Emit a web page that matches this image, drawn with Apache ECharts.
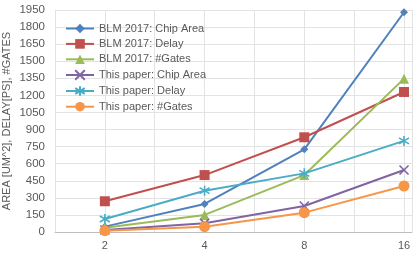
<!DOCTYPE html>
<html><head><meta charset="utf-8">
<script src="https://cdn.jsdelivr.net/npm/echarts@6/dist/echarts.min.js"></script>
<style>html,body{margin:0;padding:0;background:#fff}#c{width:415px;height:260px}</style>
</head><body><div id="c"></div>
<script>
const categories = [2, 4, 8, 16];
const xTickLabels = ['2', '4', '8', '16'];
const yTickLabels = ['0','150','300','450','600','750','900','1050','1200','1350','1500','1650','1800','1950'];
const seriesNames = ['BLM 2017: Chip Area','BLM 2017: Delay','BLM 2017: #Gates','This paper: Chip Area','This paper: Delay','This paper: #Gates'];
const blmArea = [47, 246, 726, 1930];
const blmDelay = [270, 500, 832, 1230];
const blmGates = [38, 150, 500, 1347];
const ourArea = [18, 76, 228, 545];
const ourDelay = [114, 363, 515, 800];
const ourGates = [12, 47, 170, 404];

const colors = ['#4F81BD','#C0504D','#9BBB59','#8064A2','#4BACC6','#F79646'];
const symbols = ['diamond','rect','triangle','path://M0,0L10,10M10,0L0,10','path://M5,0L5,10M0,2L10,8M0,8L10,2','circle'];
const sizes = [8, 10, 10, 9, 10, 11];
const allData = [blmArea, blmDelay, blmGates, ourArea, ourDelay, ourGates];

const chart = echarts.init(document.getElementById('c'), null, {renderer:'canvas'});
const font = 'Liberation Sans';
chart.setOption({
  animation:false,
  grid:{left:55, right:3, top:10, bottom:28, outerBoundsMode:'none', containLabel:false},
  legend:{
    orient:'vertical', left:60, top:18, itemWidth:28, itemHeight:12, itemGap:4.4,
    textStyle:{fontFamily:font, fontSize:11, color:'#595959'},
    data: seriesNames
  },
  xAxis:{
    type:'value', min:0.5, max:4.08, interval:0.5,
    axisLine:{show:true, lineStyle:{color:'#BFBFBF'}},
    axisTick:{show:false},
    splitLine:{show:true, lineStyle:{color:'#E3E3E3'}},
    axisLabel:{
      fontFamily:font, fontSize:11, color:'#595959', margin:8,
      formatter:function(v){ const i = categories.findIndex(c=>Math.abs(Math.log2(c)-v)<1e-6); return i>=0 ? xTickLabels[i] : ''; }
    }
  },
  yAxis:{
    type:'value', min:0, max:1950, interval:150,
    name:'AREA [UM^2], DELAY[PS], #GATES', nameLocation:'middle', nameGap:43, nameMoveOverlap:false,
    nameTextStyle:{fontFamily:font, fontSize:11, color:'#595959'},
    axisLine:{show:false}, axisTick:{show:false},
    splitLine:{lineStyle:{color:'#E3E3E3'}},
    axisLabel:{fontFamily:font, fontSize:11.5, color:'#595959', margin:10,
      formatter:function(v){ return yTickLabels[Math.round(v/150)]; }}
  },
  series: seriesNames.map((name,k)=>({
    name:name, type:'line',
    data: categories.map((c,i)=>[Math.log2(c), allData[k][i]]),
    symbol: symbols[k], symbolSize: sizes[k], showSymbol:true,
    lineStyle:{color:colors[k], width:2},
    itemStyle:{color: (k===3||k===4)?'rgba(0,0,0,0)':colors[k], borderColor:colors[k], borderWidth:(k===3||k===4)?1.6:0}
  }))
});
</script></body></html>
